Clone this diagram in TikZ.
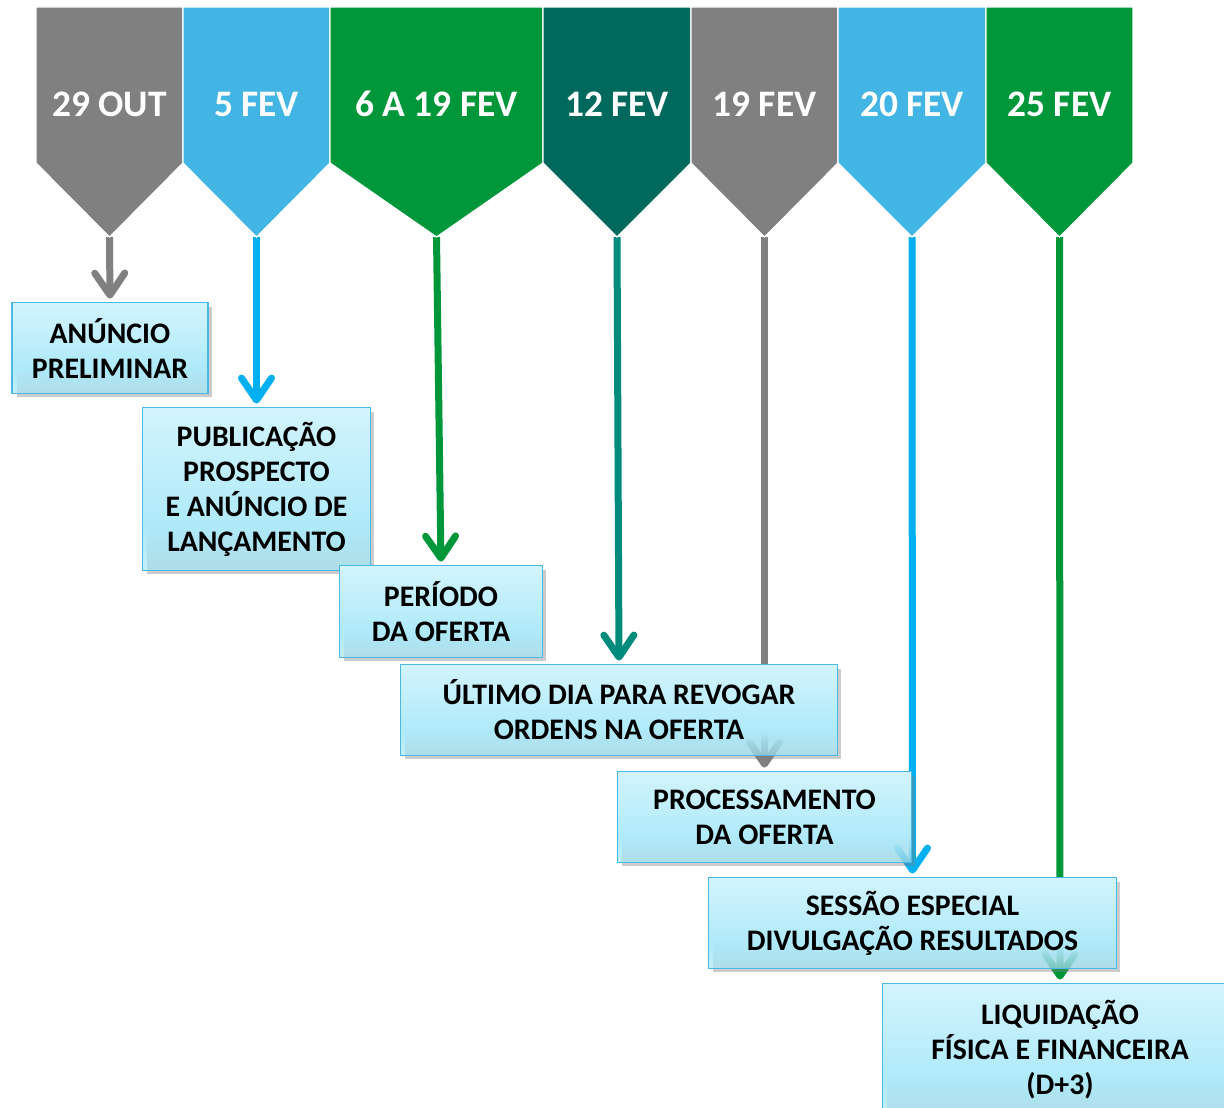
\documentclass[tikz,border=0pt]{standalone}
\usepackage{fontspec}
\setmainfont{Carlito}
\usetikzlibrary{arrows.meta,shadows,fadings,backgrounds}

\definecolor{cinza}{HTML}{808080}
\definecolor{azul}{HTML}{43B5E5}
\definecolor{verde}{HTML}{00963A}
\definecolor{petroleo}{HTML}{00695E}
\definecolor{azulseta}{HTML}{00B0F0}
\definecolor{petroleoseta}{HTML}{008B7D}
\definecolor{caixatopo}{HTML}{D2F4FD}
\definecolor{caixabase}{HTML}{A2E6F8}
\definecolor{caixaborda}{HTML}{4BB9E6}

% transparencia so no quarto de baixo das caixas
\begin{tikzfadingfrompicture}[name=caixafade]
    \fill[transparent!0] (0,0) rectangle (2,1.4);
    \shade[top color=transparent!0, bottom color=transparent!45] (0,0) rectangle (2,-0.6);
\end{tikzfadingfrompicture}

\begin{document}
\begin{tikzpicture}[x=0.5pt,y=-0.5pt,
    data/.style={white,font=\fontsize{18.7}{22}\selectfont\bfseries},
    caixa/.style={top color=caixatopo,bottom color=caixabase,path fading=caixafade,
        drop shadow={shadow xshift=2pt,shadow yshift=-2pt,opacity=0.4},
        align=center,font=\fontsize{14.9}{17.5}\selectfont\bfseries,inner sep=0pt},
    seta/.style={line width=3.5pt,-{Straight Barb[round,length=11pt,width=15pt]},shorten >=2pt}]
    \useasboundingbox (0,0) rectangle (1224,1107);

    % Datas
    \foreach \x/\w/\cor/\data [count=\i] in {36/147/cinza/29 OUT, 183/147/azul/5 FEV,
        330/213/verde/6 A 19 FEV, 543/148/petroleo/12 FEV, 691/147/cinza/19 FEV,
        838/148/azul/20 FEV, 986/147/verde/25 FEV} {
        \fill[\cor, draw=white, line width=0.6pt] (\x,7) -- (\x+\w,7) -- (\x+\w,163)
            -- (\x+\w/2,237) -- (\x,163) -- cycle;
        \coordinate (c\i) at (\x+\w/2,237);
        \node[data, anchor=base] (d\i) at (\x+\w/2,117) {\data};
    }

    % Etapas
    \foreach \x/\y/\w/\h/\texto [count=\i] in {
        110/348/195/90/ANÚNCIO\\PRELIMINAR,
        256.5/489/227/162/PUBLICAÇÃO\\PROSPECTO\\E ANÚNCIO DE\\LANÇAMENTO,
        441/611.5/202/91/PERÍODO\\DA OFERTA,
        619/710/436/90/ÚLTIMO DIA PARA REVOGAR\\ORDENS NA OFERTA,
        764.5/817/293/90/PROCESSAMENTO\\DA OFERTA,
        912.5/923/407/90/SESSÃO ESPECIAL\\DIVULGAÇÃO RESULTADOS,
        1060/1050/354/132/LIQUIDAÇÃO\\FÍSICA E FINANCEIRA\\(D+3)} {
        \node[caixa, minimum width=\w*0.5pt, minimum height=\h*0.5pt] (b\i) at (\x,\y) {\texto};
        \draw[caixaborda, line width=0.8pt] (b\i.north west) rectangle (b\i.south east);
    }

    % Setas
    \begin{pgfonlayer}{background}
        \foreach \cor [count=\i] in {cinza,azulseta,verde,petroleoseta,cinza,azulseta,verde}
            \draw[seta, \cor] (c\i) -- (b\i.north);
    \end{pgfonlayer}
\end{tikzpicture}
\end{document}
